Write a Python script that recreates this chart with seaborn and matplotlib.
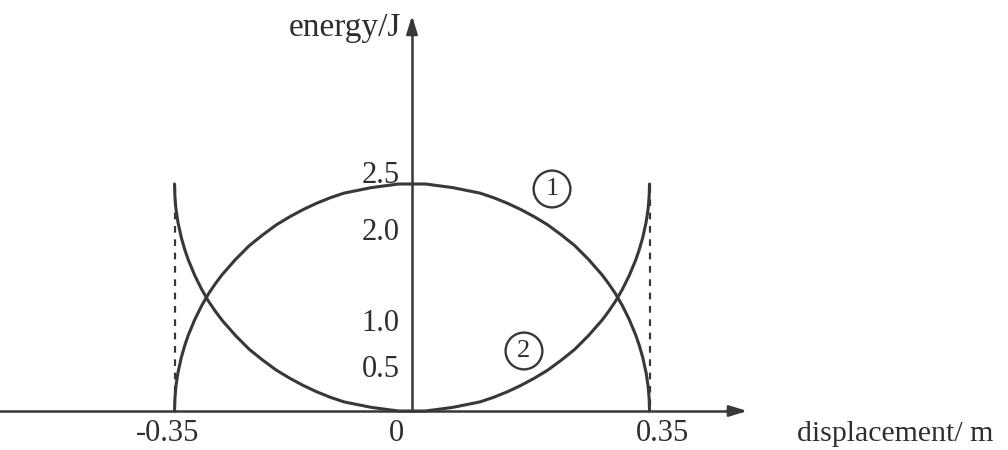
import pandas as pd
import matplotlib
matplotlib.use("Agg")
import matplotlib.pyplot as plt
import matplotlib.transforms as mtransforms
import seaborn as sns

# displacement samples (m), denser towards the turning points
displacement = [-0.35, -0.3495, -0.348, -0.345, -0.34, -0.335, -0.33, -0.32, -0.31,
                -0.30, -0.29, -0.28, -0.26, -0.24, -0.22, -0.20, -0.18, -0.16,
                -0.14, -0.12, -0.10, -0.08, -0.06, -0.04, -0.02, 0.0,
                0.02, 0.04, 0.06, 0.08, 0.10, 0.12, 0.14, 0.16, 0.18, 0.20,
                0.22, 0.24, 0.26, 0.28, 0.29, 0.30, 0.31, 0.32, 0.33, 0.335,
                0.34, 0.345, 0.348, 0.3495, 0.35]
# curve 1: kinetic energy (J)
kinetic = [0.0, 0.13, 0.27, 0.42, 0.59, 0.72, 0.83, 1.01, 1.16,
           1.29, 1.40, 1.50, 1.67, 1.82, 1.94, 2.05, 2.14, 2.22,
           2.29, 2.35, 2.40, 2.43, 2.46, 2.48, 2.50, 2.50,
           2.50, 2.48, 2.46, 2.43, 2.40, 2.35, 2.29, 2.22, 2.14, 2.05,
           1.94, 1.82, 1.67, 1.50, 1.40, 1.29, 1.16, 1.01, 0.83, 0.72,
           0.59, 0.42, 0.27, 0.13, 0.0]
# curve 2: potential energy (J)
potential = [2.50, 2.37, 2.23, 2.08, 1.91, 1.78, 1.67, 1.49, 1.34,
             1.21, 1.10, 1.00, 0.83, 0.68, 0.56, 0.45, 0.36, 0.28,
             0.21, 0.15, 0.10, 0.07, 0.04, 0.02, 0.00, 0.0,
             0.00, 0.02, 0.04, 0.07, 0.10, 0.15, 0.21, 0.28, 0.36, 0.45,
             0.56, 0.68, 0.83, 1.00, 1.10, 1.21, 1.34, 1.49, 1.67, 1.78,
             1.91, 2.08, 2.23, 2.37, 2.50]
amplitude = [-0.35, 0.35]
total_energy = 2.5
x_ticks = [-0.35, 0.0, 0.35]
x_tick_labels = ["-0.35", "0", "0.35"]
y_ticks = [0.5, 1.0, 2.0, 2.5]
y_tick_labels = ["0.5", "1.0", "2.0", "2.5"]

sns.set_theme(style="white")
plt.rcParams["font.family"] = ["Liberation Serif", "DejaVu Serif"]

ink = "#383838"
text_ink = "#2e2e2e"
fig = plt.figure(figsize=(10.08, 4.5), dpi=100)
ax = fig.add_axes([0, 0, 1, 1])

df = pd.DataFrame({
    "displacement": displacement * 2,
    "energy": kinetic + potential,
    "curve": ["1"] * len(displacement) + ["2"] * len(displacement),
})
sns.lineplot(data=df, x="displacement", y="energy", units="curve",
             estimator=None, sort=False, color=ink, lw=2.2, ax=ax, legend=False)

# dashed verticals at the amplitude
for a in amplitude:
    ax.plot([a, a], [0.06, total_energy], color=ink, lw=1.6, ls=(0, (3, 3)))

# limits put the origin left of centre, near the bottom
xmin, xmax = -0.6072, 0.8783
ymin, ymax = -0.4295, 4.5264
ax.set_xlim(xmin, xmax)
ax.set_ylim(ymin, ymax)

# axis lines through the origin, ending in arrows
for s in ["top", "right"]:
    ax.spines[s].set_visible(False)
ax.spines["left"].set_position(("data", 0))
ax.spines["bottom"].set_position(("data", 0))
for s in ["left", "bottom"]:
    ax.spines[s].set_color(ink)
    ax.spines[s].set_linewidth(1.8)
ax.spines["left"].set_bounds(0, 4.30)
ax.spines["bottom"].set_bounds(xmin, 0.485)
head = dict(arrowstyle="-|>,head_length=0.9,head_width=0.28", color=ink, lw=1.8)
ax.annotate("", xy=(0, 4.383), xytext=(0, 4.15), arrowprops=head)
ax.annotate("", xy=(0.498, 0), xytext=(0.46, 0), arrowprops=head)

ax.set_xticks(x_ticks, x_tick_labels)
ax.set_yticks(y_ticks, y_tick_labels)
ax.tick_params(axis="both", length=0, labelsize=22, labelcolor=text_ink)
ax.tick_params(axis="x", pad=6)
ax.tick_params(axis="y", pad=9)
ax.set_xlabel("")
ax.set_ylabel("")

# small hand-set nudges of the tick labels (pixels)
x_nudge = {"-0.35": -7, "0": -16, "0.35": 13}
for lbl in ax.get_xticklabels():
    dx = x_nudge.get(lbl.get_text(), 0)
    lbl.set_transform(lbl.get_transform() +
                      mtransforms.ScaledTranslation(dx / 100, 0, fig.dpi_scale_trans))
for lbl in ax.get_yticklabels():
    if lbl.get_text() == "2.5":
        lbl.set_transform(lbl.get_transform() +
                          mtransforms.ScaledTranslation(0, 12 / 100, fig.dpi_scale_trans))

ax.text(-0.0165, 4.225, "energy/J", ha="right", va="center", fontsize=24, color=text_ink)
ax.text(0.567, -0.255, "displacement/ m", ha="left", va="center", fontsize=21.5, color=text_ink)

# circled curve labels
circ = dict(boxstyle="circle,pad=0.28", fc="none", ec=ink, lw=1.7)
ax.text(0.2063, 2.445, "1", ha="center", va="center", fontsize=19, color=text_ink, bbox=circ)
ax.text(0.165, 0.661, "2", ha="center", va="center", fontsize=19, color=text_ink, bbox=circ)

fig.savefig("out.png", dpi=100, facecolor="white")
